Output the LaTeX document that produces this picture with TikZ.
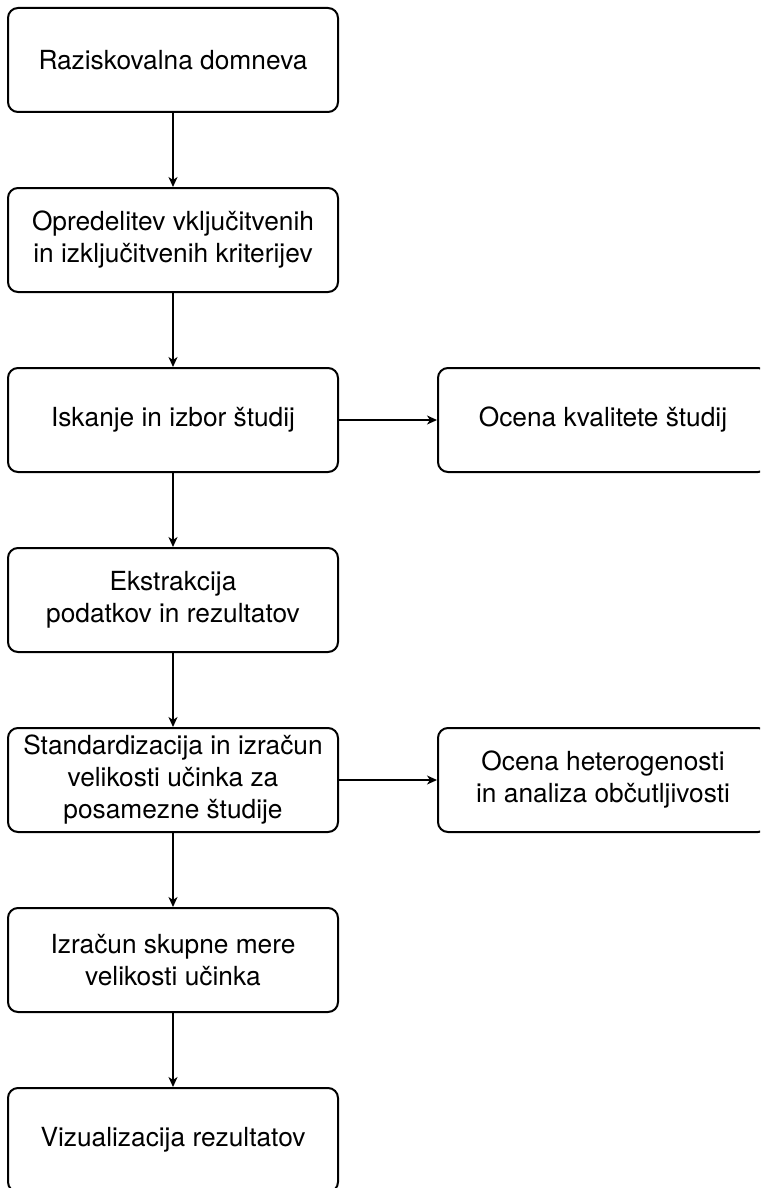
\documentclass[tikz,border=0pt]{standalone}
\usepackage{fontspec}
\setmainfont{TeX Gyre Heros}
\usetikzlibrary{arrows.meta}
\begin{document}
\begin{tikzpicture}[x=1pt,y=-1pt,
  box/.style={draw, line width=2pt, rounded corners=10pt, minimum width=330pt, minimum height=104pt, align=center, font=\fontsize{26.3}{32}\selectfont, inner sep=0pt},
  arr/.style={-{Stealth[length=10pt,width=9pt,inset=3pt]}, line width=1.8pt}]
\useasboundingbox (0,0) rectangle (760,1188);
\clip (0,0) rectangle (760,1188);
\node[box] (a) at (173,60) {Raziskovalna domneva};
\node[box] (b) at (173,240) {Opredelitev vključitvenih\\in izključitvenih kriterijev};
\node[box] (c) at (173,420) {Iskanje in izbor študij};
\node[box] (c2) at (603,420) {Ocena kvalitete študij};
\node[box] (d) at (173,600) {Ekstrakcija\\podatkov in rezultatov};
\node[box] (e) at (173,780) {Standardizacija in izračun\\velikosti učinka za\\posamezne študije};
\node[box] (e2) at (603,780) {Ocena heterogenosti\\in analiza občutljivosti};
\node[box] (f) at (173,960) {Izračun skupne mere\\velikosti učinka};
\node[box] (g) at (173,1140) {Vizualizacija rezultatov};
\draw[arr] (a) -- (b);
\draw[arr] (b) -- (c);
\draw[arr] (c) -- (d);
\draw[arr] (d) -- (e);
\draw[arr] (e) -- (f);
\draw[arr] (f) -- (g);
\draw[arr] (c) -- (c2);
\draw[arr] (e) -- (e2);
\end{tikzpicture}
\end{document}
